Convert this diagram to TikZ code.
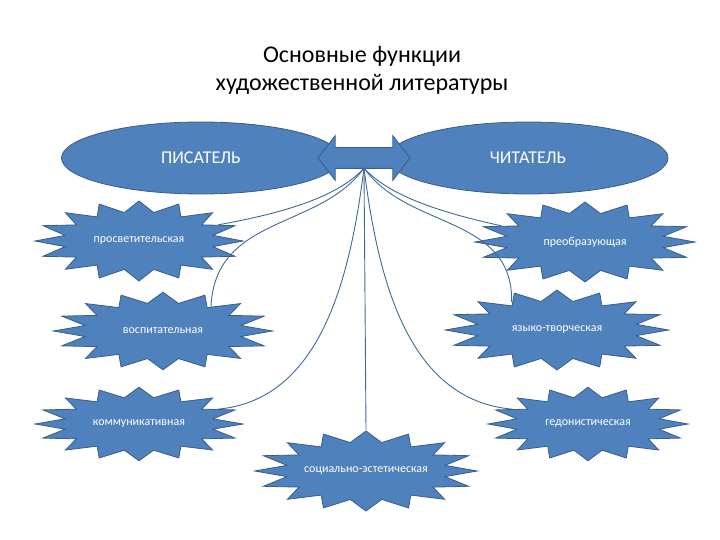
\documentclass[tikz,border=0pt]{standalone}
\usepackage{fontspec}
\setmainfont{Carlito}
\usepackage{tikz}
\usetikzlibrary{shapes.geometric, shapes.arrows}
\definecolor{slideblue}{RGB}{79,129,189}
\definecolor{slideedge}{RGB}{56,93,138}
\definecolor{fanblue}{RGB}{66,104,154}
\tikzstyle{fanline}=[line width=0.9pt, color=fanblue]

\begin{document}
\begin{tikzpicture}[x=1pt, y=-1pt,
  rolebox/.style={ellipse, draw=slideedge, fill=slideblue, line width=0.8pt,
                  text=white, font=\fontsize{18}{20}\selectfont, minimum height=72pt},
  burst/.style={star, star points=16, star point ratio=1.38, draw=slideedge,
                fill=slideblue, line width=0.8pt, minimum size=80pt, inner sep=0pt},
  bursttext/.style={text=white, font=\fontsize{12}{14}\selectfont},
  twoway/.style={double arrow, draw=slideedge, fill=slideblue, line width=0.8pt,
                 minimum height=92pt, minimum width=44pt, inner xsep=0pt, inner ysep=10pt,
                 double arrow head extend=12pt, double arrow tip angle=105}
]
\path[use as bounding box] (0,0) rectangle (720,540);

\node[align=center, font=\fontsize{24}{28}\selectfont] (title) at (362,70)
     {Основные функции\\художественной литературы};

% writer and reader
\node[rolebox, minimum width=279pt] (writer) at (201,158) {ПИСАТЕЛЬ};
\node[rolebox, minimum width=280pt] (reader) at (528,158) {ЧИТАТЕЛЬ};
\node[twoway] (link) at (364,158) {};
\coordinate (hub) at ([yshift=-10pt]link.center);

% functions
\node[burst, xscale=2.6] (prosv) at (139,241) {};
\node[bursttext] (prosvT) at (prosv) {просветительская};
\node[burst, xscale=2.75] (preob) at (585,242) {};
\node[bursttext] (preobT) at (preob) {преобразующая};
\node[burst, xscale=2.74, yscale=0.97] (vosp) at (163,331) {};
\node[bursttext] (vospT) at (vosp) {воспитательная};
\node[burst, xscale=2.79] (yaz) at (557,330) {};
\node[bursttext] (yazT) at (yaz) {языко-творческая};
\node[burst, xscale=2.6, yscale=0.92] (komm) at (139,424) {};
\node[bursttext] (kommT) at (komm) {коммуникативная};
\node[burst, xscale=2.5, yscale=0.92] (gedon) at (588,424) {};
\node[bursttext] (gedonT) at (gedon) {гедонистическая};
\node[burst, xscale=2.78] (soc) at (366,471) {};
\node[bursttext] (socT) at (soc) {социально-эстетическая};

\draw[fanline] (hub) .. controls (340,195) and (290,212) .. (prosv.28);
\draw[fanline] (hub) .. controls (320,230) and (215,215) .. (vosp.55);
\draw[fanline] (hub) .. controls (350,280) and (320,400) .. (komm.28);
\draw[fanline] (hub) -- (soc.north);
\draw[fanline] (hub) .. controls (388,195) and (438,212) .. (preob.152);
\draw[fanline] (hub) .. controls (408,230) and (513,215) .. (yaz.120);
\draw[fanline] (hub) .. controls (378,280) and (408,400) .. (gedon.152);
\end{tikzpicture}
\end{document}
